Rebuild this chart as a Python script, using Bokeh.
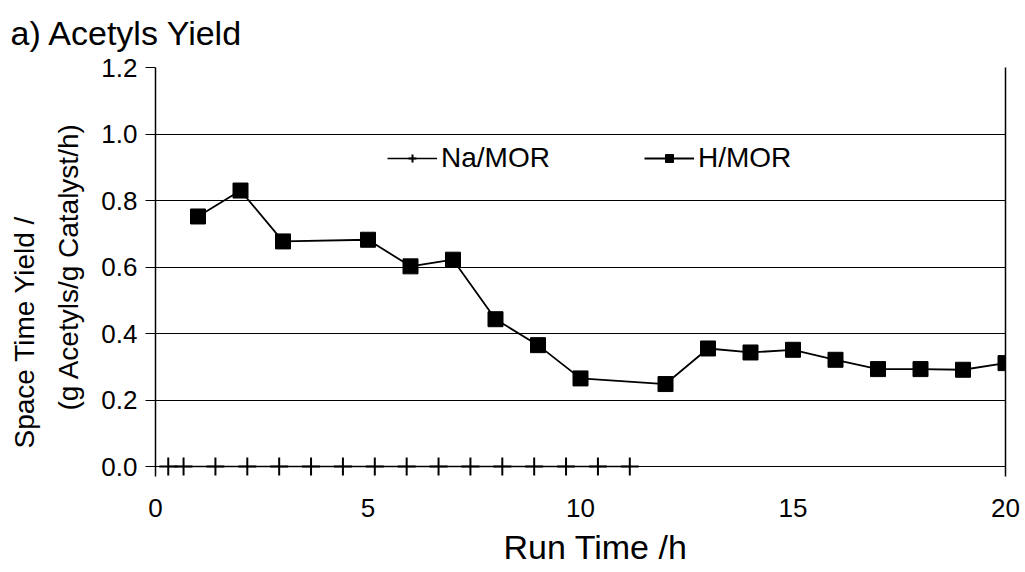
import math
from bokeh.plotting import figure
from bokeh.models import (FixedTicker, LinearAxis, Legend, LegendItem,
                          NumeralTickFormatter, Range1d, Title)
from bokeh.embed import file_html
from bokeh.resources import INLINE

# ---- data ----
na_x = [0.3, 0.66, 1.41, 2.16, 2.91, 3.66, 4.41, 5.16, 5.91, 6.66, 7.41, 8.16,
        8.91, 9.66, 10.41, 11.16]
na_y = [0.0] * 16
h_x = [1, 2, 3, 5, 6, 7, 8, 9, 10, 12, 13, 14, 15, 16, 17, 18, 19, 20]
h_y = [0.752, 0.83, 0.677, 0.682, 0.602, 0.622, 0.443, 0.365, 0.265, 0.248,
       0.355, 0.343, 0.351, 0.321, 0.293, 0.293, 0.291, 0.311]
x_ticks = [0, 5, 10, 15, 20]
y_ticks = [0.0, 0.2, 0.4, 0.6, 0.8, 1.0, 1.2]
title_text = "a) Acetyls Yield"
y_label_1 = "Space Time Yield /"
y_label_2 = "(g Acetyls/g Catalyst/h)"
x_label = "Run Time /h"

FONT = "Liberation Sans"

p = figure(width=1025, height=572, output_backend="svg", toolbar_location=None,
           x_range=Range1d(0, 20), y_range=Range1d(-0.03, 1.2),
           min_border_left=155, min_border_right=20, min_border_top=67,
           min_border_bottom=94)
p.background_fill_color = "white"
p.border_fill_color = "white"
p.outline_line_color = None

# axes
p.xaxis.ticker = FixedTicker(ticks=x_ticks)
p.xaxis.axis_line_color = None
p.xaxis.major_tick_line_color = None
p.xaxis.minor_tick_line_color = None
p.xaxis.major_label_text_font = FONT
p.xaxis.major_label_text_font_size = "26px"
p.xaxis.major_label_text_color = "black"
p.xaxis.major_label_standoff = 16

p.yaxis.ticker = FixedTicker(ticks=y_ticks)
p.yaxis.formatter = NumeralTickFormatter(format="0.0")
p.yaxis.axis_line_color = "black"
p.yaxis.axis_line_width = 1.5
p.yaxis.major_tick_line_color = "black"
p.yaxis.major_tick_line_width = 1
p.yaxis.major_tick_out = 10
p.yaxis.major_tick_in = 0
p.yaxis.minor_tick_line_color = None
p.yaxis.major_label_text_font = FONT
p.yaxis.major_label_text_font_size = "26px"
p.yaxis.major_label_text_color = "black"
p.yaxis.major_label_standoff = 8

right_axis = LinearAxis(major_tick_line_color=None, minor_tick_line_color=None,
                        major_label_text_font_size="0px", axis_line_width=1.5,
                        axis_line_color="black")
right_axis.ticker = FixedTicker(ticks=[])
p.add_layout(right_axis, "right")

p.xgrid.grid_line_color = None
p.ygrid.ticker = FixedTicker(ticks=y_ticks)
p.ygrid.grid_line_color = "black"
p.ygrid.grid_line_width = 1

# series
na_line = p.line(na_x, na_y, line_color="black", line_width=1.4)
na_marks = p.scatter(na_x, na_y, marker="cross", size=18,
                     line_color="black", line_width=2)
h_line = p.line(h_x, h_y, line_color="black", line_width=1.8)
h_marks = p.scatter(h_x, h_y, marker="square", size=15, fill_color="black",
                    line_color="black")

legend = Legend(items=[
    LegendItem(label="Na/MOR", renderers=[na_line, na_marks]),
    LegendItem(label="H/MOR", renderers=[h_line, h_marks]),
], orientation="horizontal", location=(232, 302))
legend.padding = 0
legend.margin = 0
legend.spacing = 94
legend.glyph_width = 50
legend.label_standoff = 4
legend.border_line_color = None
legend.background_fill_alpha = 0
legend.label_text_font = FONT
legend.label_text_font_size = "28px"
legend.label_text_color = "black"
p.add_layout(legend, "center")

# title
p.add_layout(Title(text=title_text, align="left", offset=-145,
                   vertical_align="top",
                   text_font=FONT, text_font_size="34px",
                   text_font_style="normal", text_color="black",
                   standoff=27), "above")

# y label lines (inner line first)
p.add_layout(Title(text=y_label_2, align="left", offset=66,
                   vertical_align="top",
                   text_font=FONT, text_font_size="28px",
                   text_font_style="normal", text_color="black",
                   standoff=26), "left")
p.add_layout(Title(text=y_label_1, align="left", offset=28,
                   text_font=FONT, text_font_size="28px",
                   text_font_style="normal", text_color="black",
                   standoff=0), "left")

# x label
p.add_layout(Title(text=x_label, align="left", offset=348,
                   text_font=FONT, text_font_size="34px",
                   text_font_style="normal", text_color="black",
                   standoff=13), "below")

open("out.html", "w").write(file_html(p, INLINE))
